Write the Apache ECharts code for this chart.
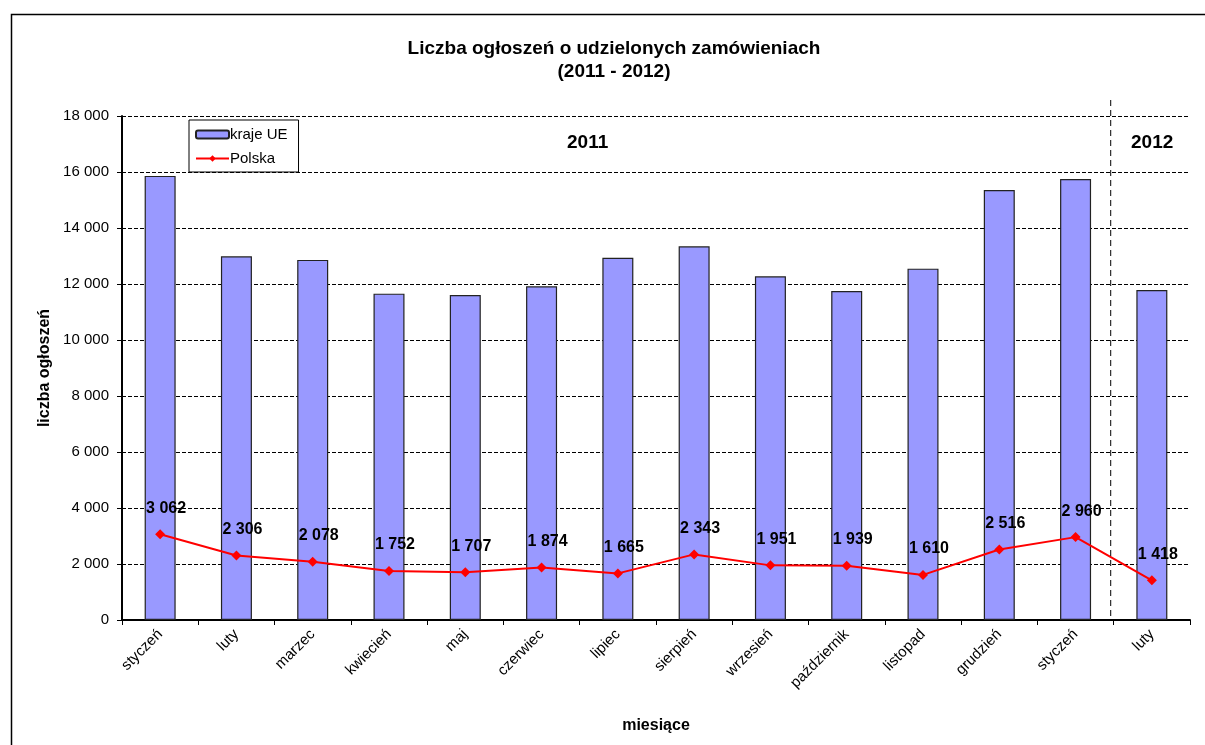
<!DOCTYPE html>
<html><head><meta charset="utf-8">
<script src="https://cdn.jsdelivr.net/npm/echarts@6/dist/echarts.min.js"></script>
<style>html,body{margin:0;padding:0;background:#fff}#c{width:1205px;height:745px}</style>
</head><body><div id="c"></div>
<script>
const categories = ['styczeń','luty','marzec','kwiecień','maj','czerwiec','lipiec','sierpień','wrzesień','październik','listopad','grudzień','styczeń','luty'];
const krajeUE = [15860,12990,12860,11655,11607,11917,12940,13345,12274,11750,12548,15357,15750,11786];
const polska = [3062,2306,2078,1752,1707,1874,1665,2343,1951,1939,1610,2516,2960,1418];
const yTicks = [0,2000,4000,6000,8000,10000,12000,14000,16000,18000];
const yearBoundary = 13;

const fmt = v => String(v).replace(/\B(?=(\d{3})+(?!\d))/g, ' ');
const FONT = 'Liberation Sans, Arial, sans-serif';
const chart = echarts.init(document.getElementById('c'), null, {renderer:'canvas'});
const option = {
  animation:false,
  textStyle:{fontFamily:FONT,color:'#000'},
  title:{
    text:'Liczba ogłoszeń o udzielonych zamówieniach\n(2011 - 2012)',
    left:609, top:32, textAlign:'center',
    textStyle:{fontFamily:FONT,fontSize:19,fontWeight:'bold',color:'#000',lineHeight:23}
  },
  legend:{
    orient:'vertical', left:189, top:120, width:109,
    padding:[7,11,6,6], itemGap:9, itemWidth:33, itemHeight:8,
    borderColor:'#000', borderWidth:1, backgroundColor:'#fff',
    textStyle:{fontFamily:FONT,fontSize:15,color:'#000',padding:[0,0,0,-4]},
    data:[{name:'kraje UE'},{name:'Polska'}]
  },
  grid:{left:122,right:15,top:116,bottom:125,containLabel:false},
  xAxis:[{
    type:'category', data:categories, boundaryGap:true,
    name:'miesiące', nameLocation:'middle', nameGap:98,
    nameTextStyle:{fontFamily:FONT,fontSize:16,fontWeight:'bold',color:'#000'},
    axisLine:{lineStyle:{color:'#000',width:2}},
    axisTick:{show:true,length:5,lineStyle:{color:'#000'},alignWithLabel:false},
    axisLabel:{rotate:45,fontFamily:FONT,fontSize:15,color:'#000',margin:12,interval:0}
  },{
    type:'value', min:0, max:14, show:false
  }],
  yAxis:{
    type:'value', min:0, max:18000, interval:2000,
    name:'liczba ogłoszeń', nameLocation:'middle', nameGap:69, nameRotate:90,
    nameTextStyle:{fontFamily:FONT,fontSize:16,fontWeight:'bold',color:'#000'},
    axisLine:{show:true,lineStyle:{color:'#000',width:2}},
    axisTick:{show:true,length:5,lineStyle:{color:'#000'}},
    axisLabel:{fontFamily:FONT,fontSize:15,color:'#000',margin:13,
      formatter:v => yTicks.includes(v) ? fmt(v) : ''},
    splitLine:{show:true,lineStyle:{color:'#000',type:[4,2],width:1}}
  },
  series:[{
    name:'kraje UE', type:'bar', data:krajeUE, barWidth:31,
    itemStyle:{color:'#9999FF',borderColor:'#222',borderWidth:1.2}
  },{
    name:'Polska', type:'line', data:polska, z:5,
    symbol:'diamond', symbolSize:10,
    lineStyle:{color:'#FF0000',width:2},
    itemStyle:{color:'#FF0000'},
    label:{show:true,position:'top',distance:13,offset:[6,0],
      fontFamily:FONT,fontSize:16,fontWeight:'bold',color:'#000',
      formatter:p => fmt(p.value)}
  }]
};
chart.setOption(option);
const bx = chart.convertToPixel({xAxisIndex:1}, yearBoundary) - 3;
const y0 = chart.convertToPixel({yAxisIndex:0}, 0);
chart.setOption({
  graphic:[
    {type:'rect',shape:{x:11.5,y:14.5,width:1300,height:800},style:{fill:'none',stroke:'#000',lineWidth:1.5},silent:true,z:-1},
    {type:'line',shape:{x1:bx,y1:100,x2:bx,y2:y0},style:{stroke:'#000',lineWidth:1,lineDash:[6,4]},z:10},
    {type:'text',left:567,top:133,style:{text:'2011',font:'bold 19px '+FONT,fill:'#000'}},
    {type:'text',left:1131,top:133,style:{text:'2012',font:'bold 19px '+FONT,fill:'#000'}}
  ]
});
</script></body></html>
